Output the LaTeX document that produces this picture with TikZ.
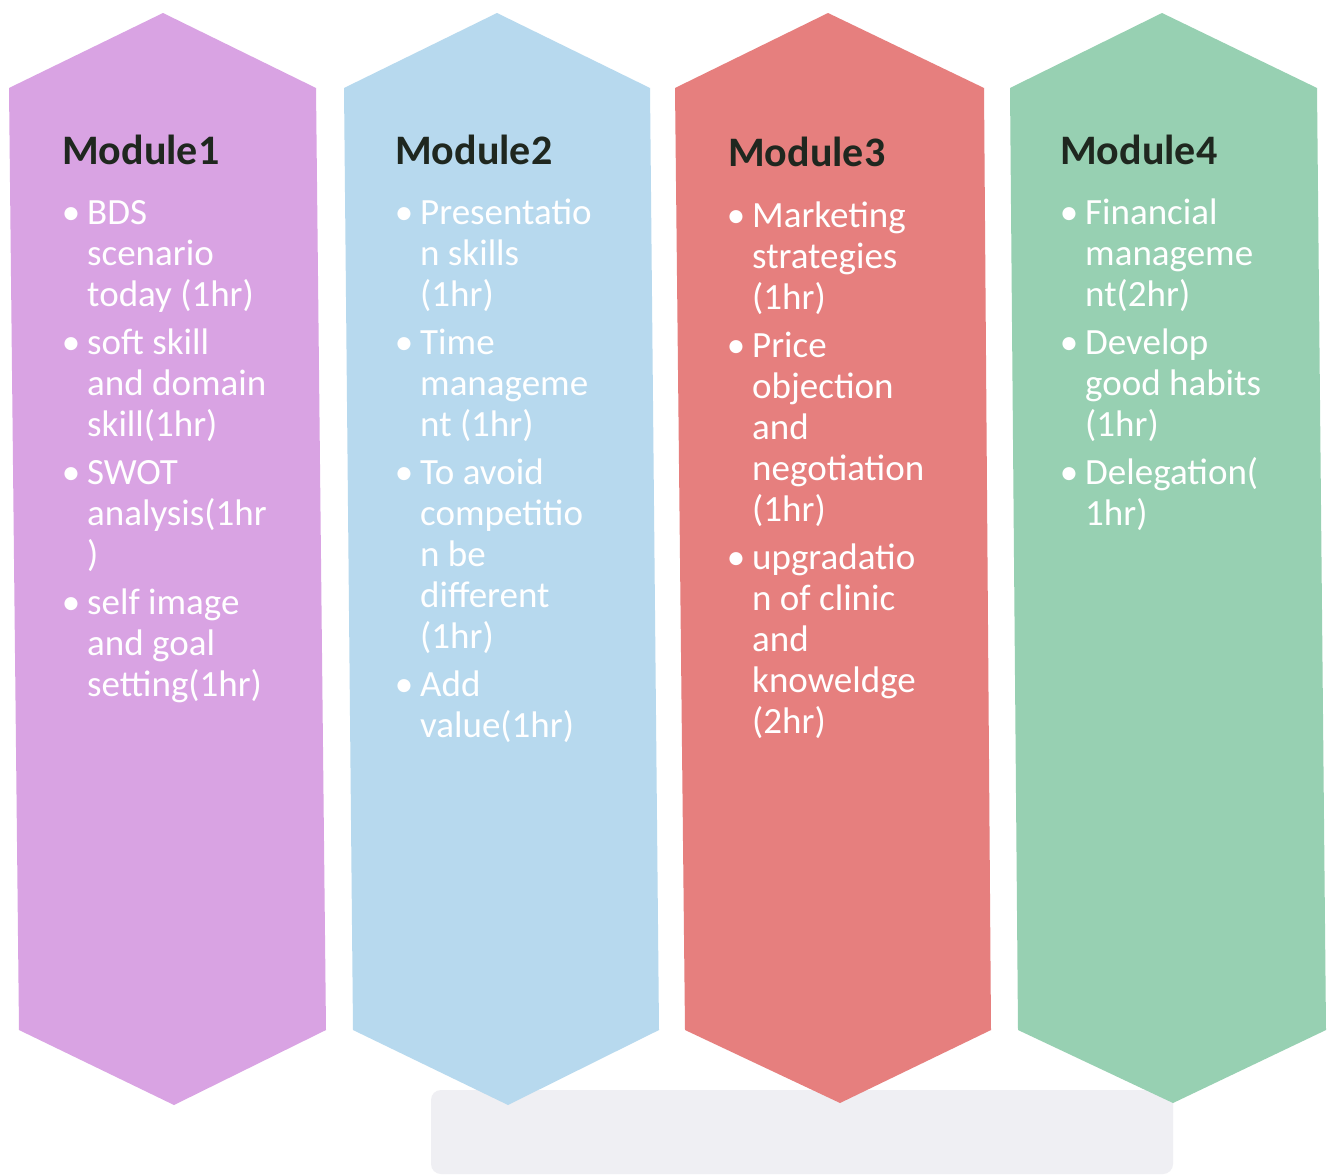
\documentclass[tikz,border=0pt]{standalone}
\usepackage{fontspec}
\setmainfont{Carlito}
\definecolor{mpurple}{HTML}{D9A3E3}
\definecolor{mblue}{HTML}{B7D9EE}
\definecolor{mred}{HTML}{E67F7E}
\definecolor{mgreen}{HTML}{97D0B2}
\definecolor{mhead}{HTML}{1F271F}
\definecolor{mfaint}{HTML}{EFEFF3}
\newcommand{\bl}{\llap{•\hspace{7pt}}}
\newcommand{\st}{\rule{0pt}{34pt}}
\begin{document}
\begin{tikzpicture}[x=1pt,y=-1pt,
  hexa/.style={draw=none},
  headtext/.style={anchor=base west,inner sep=0pt,text=mhead,font={\fontsize{42}{46}\selectfont\bfseries}},
  itemtext/.style={anchor=north west,inner sep=0pt,align=left,text=white,font={\fontsize{37}{41}\selectfont}}]
\useasboundingbox (0,0) rectangle (1333,1175);
\fill[white] (0,0) rectangle (1333,1175);
\fill[mfaint,rounded corners=10pt] (431,1090) rectangle (1173,1174);
% shapes
\fill[mpurple,hexa] (163,13) -- (316,88) -- (326,1030) -- (174,1105) -- (19,1030) -- (9,88) -- cycle;
\fill[mblue,hexa] (497,13) -- (650,88) -- (659,1030) -- (508,1105) -- (353,1030) -- (344,88) -- cycle;
\fill[mred,hexa] (828,13) -- (984,88) -- (991,1030) -- (840,1103) -- (685,1030) -- (675,88) -- cycle;
\fill[mgreen,hexa] (1162,13) -- (1317,88) -- (1326,1030) -- (1173,1103) -- (1018,1030) -- (1010,88) -- cycle;
% headings
\node[headtext] (h1) at (62,164) {Module1};
\node[headtext] (h2) at (395,164) {Module2};
\node[headtext] (h3) at (728,166) {Module3};
\node[headtext] (h4) at (1060,164) {Module4};
% module 1
\node[itemtext] (m1a) at (87,190) {\st\bl BDS\\scenario\\today (1hr)};
\node[itemtext] (m1b) at (87,320) {\st\bl soft skill\\and domain\\skill(1hr)};
\node[itemtext] (m1c) at (87,450) {\st\bl SWOT\\analysis(1hr\\)};
\node[itemtext] (m1d) at (87,580) {\st\bl self image\\and goal\\setting(1hr)};
% module 2
\node[itemtext] (m2a) at (420,190) {\st\bl Presentatio\\n skills\\(1hr)};
\node[itemtext] (m2b) at (420,320) {\st\bl Time\\manageme\\nt (1hr)};
\node[itemtext] (m2c) at (420,450) {\st\bl To avoid\\competitio\\n be\\different\\(1hr)};
\node[itemtext] (m2d) at (420,662) {\st\bl Add\\value(1hr)};
% module 3
\node[itemtext] (m3a) at (752,193) {\st\bl Marketing\\strategies\\(1hr)};
\node[itemtext] (m3b) at (752,323) {\st\bl Price\\objection\\and\\negotiation\\(1hr)};
\node[itemtext] (m3c) at (752,535) {\st\bl upgradatio\\n of clinic\\and\\knoweldge\\(2hr)};
% module 4
\node[itemtext] (m4a) at (1085,190) {\st\bl Financial\\manageme\\nt(2hr)};
\node[itemtext] (m4b) at (1085,320) {\st\bl Develop\\good habits\\(1hr)};
\node[itemtext] (m4c) at (1085,450) {\st\bl Delegation(\\1hr)};
\end{tikzpicture}
\end{document}
